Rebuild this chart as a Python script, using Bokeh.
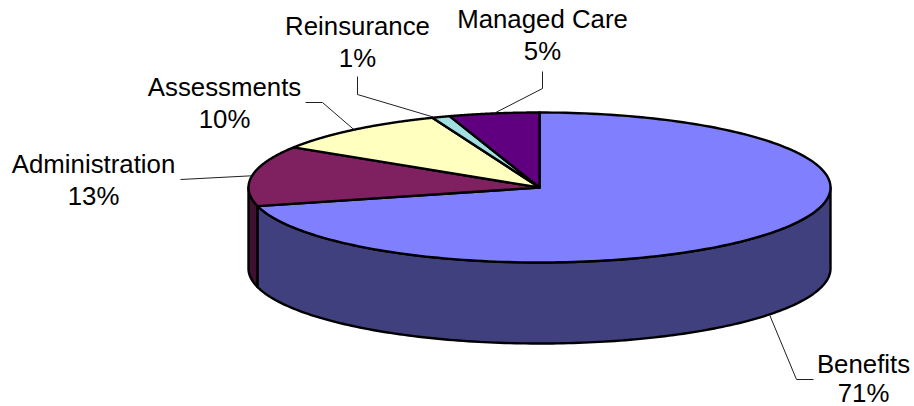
import numpy as np
from bokeh.core.properties import value
from bokeh.embed import file_html
from bokeh.models import Range1d
from bokeh.plotting import figure
from bokeh.resources import INLINE

categories = ["Benefits", "Administration", "Assessments", "Reinsurance", "Managed Care"]
percent = [71, 13, 10, 1, 5]
top_colors = ["#8080FF", "#7F2060", "#FFFFC0", "#A0E0E0", "#600080"]
side_colors = ["#40407F", "#3F1030", "#7F7F60", "#507070", "#300040"]

# layout of the drawing, in page pixels
CX, CY, RX, RY, DEPTH = 539.0, 187.0, 291.0, 75.0, 81.0
label_x = [863, 93, 224, 357, 542]
label_y = [363, 163, 86, 25, 18]
line_gap = [29, 32, 32, 32, 32]
elbow_x = [[813, 796], [180], [305, 322], [357, 357], [542, 542]]
elbow_y = [[379, 379], [179], [102, 102], [76, 94], [71, 88]]
anchor_shift = [0, 0, 0, -8, 0]
FONT = value("Liberation Sans")
FONT_SIZE = "25.8px"

p = figure(width=914, height=406, output_backend="svg", toolbar_location=None,
           x_range=Range1d(0, 914), y_range=Range1d(406, 0),
           min_border=0, outline_line_color=None)
p.axis.visible = False
p.grid.visible = False
p.background_fill_color = "white"
p.border_fill_color = "white"


def ell(t, dy=0.0):
    return CX + RX * np.sin(t), CY - RY * np.cos(t) + dy


edges = np.radians(np.cumsum([0] + percent) * 3.6)

# wall of the drum: only the front half (90 deg to 270 deg) is visible
for i in range(len(percent) - 1, -1, -1):
    a = max(edges[i], np.pi / 2)
    b = min(edges[i + 1], 3 * np.pi / 2)
    if b <= a:
        continue
    t = np.linspace(a, b, 160)
    x0, y0 = ell(t)
    x1, y1 = ell(t[::-1], DEPTH)
    p.patch(np.r_[x0, x1], np.r_[y0, y1], fill_color=side_colors[i],
            line_color="black", line_width=2.4, line_join="round")

# top face
for i in range(len(percent)):
    t = np.linspace(edges[i], edges[i + 1], 200)
    x, y = ell(t)
    p.patch(np.r_[CX, x], np.r_[CY, y], fill_color=top_colors[i],
            line_color="black", line_width=2.4, line_join="round")

# leader lines and labels
for i, name in enumerate(categories):
    mid = (edges[i] + edges[i + 1]) / 2
    ax, ay = ell(mid, DEPTH if np.pi / 2 < mid < 3 * np.pi / 2 else 0.0)
    p.line(elbow_x[i] + [ax + anchor_shift[i]], elbow_y[i] + [ay],
           line_color="#202020", line_width=1)
    p.text([label_x[i]], [label_y[i]], text=[name], text_align="center",
           text_baseline="middle", text_font=FONT, text_font_size=FONT_SIZE,
           text_color="black")
    p.text([label_x[i]], [label_y[i] + line_gap[i]], text=[f"{percent[i]}%"],
           text_align="center", text_baseline="middle", text_font=FONT,
           text_font_size=FONT_SIZE, text_color="black")

open("out.html", "w").write(file_html(p, INLINE))
